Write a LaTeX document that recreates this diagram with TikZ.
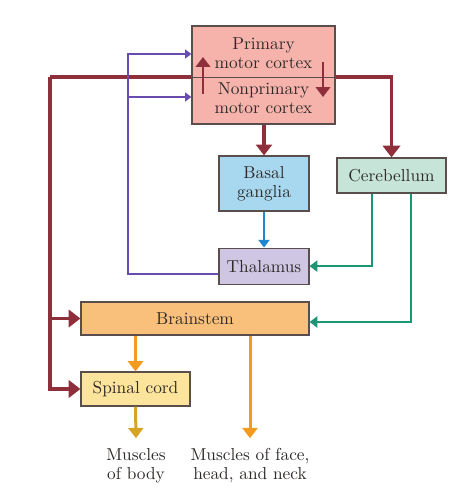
\documentclass[tikz,border=0pt]{standalone}
\usepackage{fontspec}
\setmainfont{lmroman10-regular}[Extension=.otf]
\usepackage{xcolor}
\usepackage{tikz}
\usetikzlibrary{positioning, arrows.meta, calc}

\definecolor{cortexfill}{HTML}{F6B3AC}
\definecolor{basalfill}{HTML}{A8D8F0}
\definecolor{cerebfill}{HTML}{C6E4D8}
\definecolor{thalfill}{HTML}{CEC6E3}
\definecolor{stemfill}{HTML}{F8C07A}
\definecolor{spinalfill}{HTML}{FCE49C}
\definecolor{edgegray}{HTML}{5A4E4C}
\definecolor{darkred}{HTML}{8E2F3B}
\definecolor{violet}{HTML}{6A4CB0}
\definecolor{teal}{HTML}{1B9573}
\definecolor{skyblue}{HTML}{2088D0}
\definecolor{amber}{HTML}{F49A1C}
\definecolor{golden}{HTML}{D6A424}
\definecolor{inkgray}{HTML}{2E2A28}

\begin{document}
\begin{tikzpicture}
        [
        x=1pt, y=-1pt,
        every node/.style = {font=\fontsize{17.3}{19}\selectfont, text=inkgray, align=center},
        region/.style = {draw=edgegray, line width=1.1pt, inner sep=0pt},
        tract/.style = {line width=#1, -{Triangle[width=4*#1+3pt, length=2.6*#1+2.5pt]}},
        redpath/.style = {tract=3.6pt, draw=darkred},
        ]
    \useasboundingbox (0,0) rectangle (473,500);

    % red pathway from the cortex, drawn behind the boxes
    \coordinate (hub) at (50,77);
    \node[region, fill=cerebfill, minimum width=109pt, minimum height=35pt] (cereb) at (391.5,175.5) {Cerebellum};
    \node[region, fill=stemfill, minimum width=228pt, minimum height=33pt] (stem) at (195,318.5) {Brainstem};
    \node[region, fill=spinalfill, minimum width=109pt, minimum height=34pt] (spinal) at (135.5,389) {Spinal cord};
    \draw[redpath] (hub) -- (hub -| cereb.north) -- (cereb.north);
    \draw[redpath] (hub) |- (stem.west);
    \draw[redpath] (hub) |- (spinal.west);

    \node[region, fill=cortexfill, minimum width=143pt, minimum height=98pt] (cortex) at (263.5,75) {};
    \draw[edgegray, line width=0.8pt] (cortex.west |- hub) -- (cortex.east |- hub);
    \node (prim) at (263.5,53.5) {Primary\\motor cortex};
    \node (nonprim) at (263.5,98.5) {Nonprimary\\motor cortex};
    \draw[redpath, tract=2.8pt] ($(cortex.center)+(-60.5,19)$) -- ($(cortex.center)+(-60.5,-18)$);
    \draw[redpath, tract=2.8pt] ($(cortex.center)+(59.5,-13)$) -- ($(cortex.center)+(59.5,22)$);

    \node[region, fill=basalfill, minimum width=90pt, minimum height=55pt] (basal) at (264,183.5) {Basal\\ganglia};
    \node[region, fill=thalfill, minimum width=90pt, minimum height=36pt, below=36pt of basal] (thal) {Thalamus};

    \node (body) at (136,466) {Muscles\\of body};
    \node (face) at (250,466) {Muscles of face,\\head, and neck};

    \draw[redpath, tract=3.2pt] (cortex.south -| basal.north) -- (basal.north);
    \draw[tract=2pt, draw=skyblue] (basal.south) -- (thal.north);
    \draw[tract=1.5pt, draw=violet] ([yshift=-8pt]thal.west) -| (128,54) -- ([yshift=21pt]cortex.west);
    \draw[tract=1.5pt, draw=violet] (128,97) -- ([yshift=-22pt]cortex.west);
    \draw[tract=2pt, draw=teal] ([xshift=-19.5pt]cereb.south) |- (thal.east);
    \draw[tract=2pt, draw=teal] ([xshift=19.5pt]cereb.south) |- ([yshift=-3.5pt]stem.east);
    \draw[tract=3pt, draw=amber] (stem.south -| spinal.north) -- (spinal.north);
    \draw[tract=3pt, draw=amber] (stem.south -| face.north) -- ([yshift=7pt]face.north);
    \draw[tract=3pt, draw=golden] (spinal.south) -- ([yshift=7pt]body.north);
\end{tikzpicture}
\end{document}
